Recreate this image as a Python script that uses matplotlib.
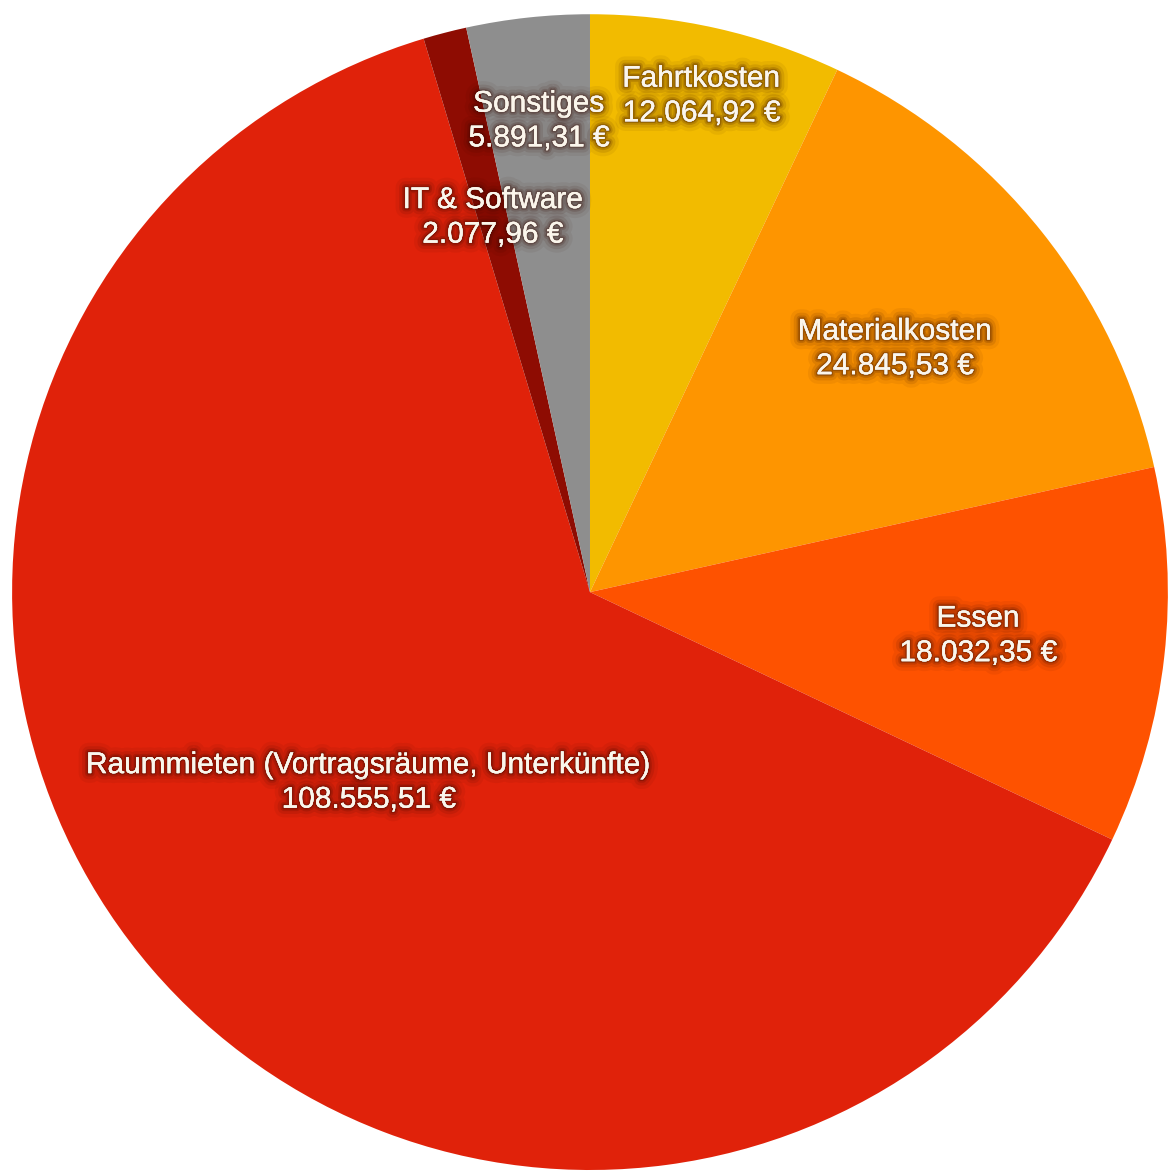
import numpy as np
import matplotlib
matplotlib.use('Agg')
import matplotlib.pyplot as plt
import matplotlib.patheffects as pe

# Data (clockwise from 12 o'clock)
categories = ['Fahrtkosten', 'Materialkosten', 'Essen',
              'Raummieten (Vortragsräume, Unterkünfte)', 'IT & Software', 'Sonstiges']
values = [12064.92, 24845.53, 18032.35, 108555.51, 2077.96, 5891.31]
value_labels = ['12.064,92 €', '24.845,53 €', '18.032,35 €', '108.555,51 €', '2.077,96 €', '5.891,31 €']

colors = ['#F2BB00', '#FE9500', '#FE5200', '#E0220A', '#8E0C02', '#8E8E8E']
label_dist = [0.88, 0.675, 0.676, 0.505, 0.67, 0.82]

plt.rcParams['font.family'] = ['Liberation Sans', 'DejaVu Sans']

fig = plt.figure(figsize=(11.70, 11.71), dpi=100)
ax = fig.add_axes([0.01026, 0.00085, 0.988, 0.987])
wedges, _ = ax.pie(values, colors=colors, startangle=90, counterclock=False,
                   wedgeprops=dict(linewidth=0), radius=1.0)
ax.set_xlim(-1, 1)
ax.set_ylim(-1, 1)
ax.set_aspect('equal')
ax.axis('off')

glow = [pe.withStroke(linewidth=14, foreground=(0.2, 0.03, 0, 0.06)),
        pe.withStroke(linewidth=9, foreground=(0.2, 0.03, 0, 0.10)),
        pe.withStroke(linewidth=5, foreground=(0.2, 0.03, 0, 0.16)),
        pe.withStroke(linewidth=2.5, foreground=(0.2, 0.03, 0, 0.25)),
        pe.Normal()]

#labels at the middle of each wedge
for w, cat, val, d in zip(wedges, categories, value_labels, label_dist):
    ang = np.deg2rad((w.theta1 + w.theta2) / 2)
    x, y = d * np.cos(ang), d * np.sin(ang)
    ax.text(x, y, cat + '\n' + val, ha='center', va='center', fontsize=21.5,
            color='#FBF6EC', linespacing=1.3, path_effects=glow)

fig.savefig('out.png', dpi=100, facecolor='white')
plt.close()
